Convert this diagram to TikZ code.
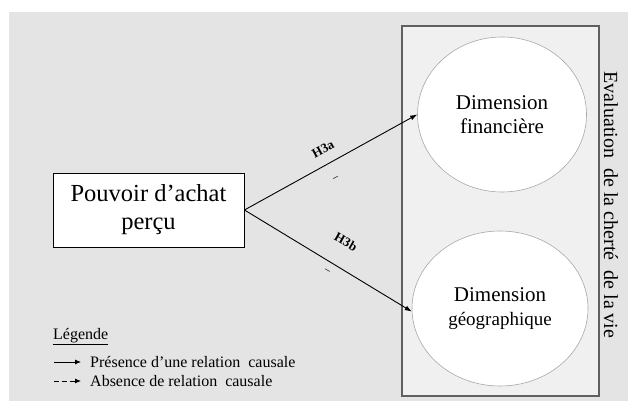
\documentclass[tikz,border=0pt]{standalone}
\usepackage{fontspec}
\setmainfont{Liberation Serif}
\usetikzlibrary{shapes.geometric,arrows.meta}
\definecolor{bggray}{HTML}{E4E4E4}
\definecolor{panel}{HTML}{F0F0F0}
\definecolor{panelline}{HTML}{606060}
\definecolor{ellline}{HTML}{A8A8A8}
\tikzset{
  x=1pt,y=1pt,
  dim/.style={ellipse,draw=ellline,line width=0.6pt,fill=white,inner sep=0pt,align=center,font=\fontsize{21}{24}\selectfont},
  causal/.style={line width=0.9pt,-{Latex[length=7pt,width=5pt]}},
  hlab/.style={font=\fontsize{13}{13}\selectfont\bfseries,inner sep=0pt},
  minus/.style={font=\fontsize{11}{11}\selectfont,inner sep=0pt},
  legtxt/.style={font=\fontsize{16}{16}\selectfont,anchor=west,inner sep=0pt}
}
\begin{document}
\begin{tikzpicture}
\useasboundingbox (0,0) rectangle (628,403);
\fill[bggray] (9,2) rectangle (628,391);
\draw[panelline,fill=panel,line width=1.1pt] (402,7) rectangle (599,377);
\node[dim,minimum width=169pt,minimum height=155pt] (fin) at (502,288.5) {Dimension\\financière};
\node[dim,minimum width=176pt,minimum height=155pt] (geo) at (500,94.5) {Dimension\\{\fontsize{19}{24}\selectfont géographique}};
\node[draw=black,fill=white,line width=0.9pt,minimum width=191pt,minimum height=74pt,inner sep=0pt,align=center,font=\fontsize{24.5}{28}\selectfont] (pa) at (148.5,193) {Pouvoir d’achat\\perçu};
\node[rotate=-90,font=\fontsize{20}{20}\selectfont,inner sep=0pt] (eval) at (611,198) {Evaluation\ \ de la cherté\ \ de la vie};
\draw[causal] (pa.east) -- (fin.west);
\draw[causal] (pa.east) -- (geo.182);
\node[hlab,rotate=28.4] (h3a) at (323,254) {H3a};
\node[minus,rotate=28.4] (m3a) at (336,224) {–};
\node[hlab,rotate=-29.5] (h3b) at (346,161) {H3b};
\node[minus,rotate=-29.5] (m3b) at (327,131) {–};
\node[legtxt] (leg) at (53,66) {\underline{Légende}};
\coordinate (l1a) at (54,41);
\coordinate (l1b) at (81,41);
\coordinate (l2a) at (54,22);
\coordinate (l2b) at (81,22);
\draw[line width=0.8pt,-{Latex[length=6pt,width=5pt]}] (l1a) -- (l1b);
\draw[line width=0.8pt,dash pattern=on 5pt off 3pt,-{Latex[length=6pt,width=5pt]}] (l2a) -- (l2b);
\node[legtxt] (t1) at (90,41) {Présence d’une relation\ \ causale};
\node[legtxt] (t2) at (90,22) {Absence de relation\ \ causale};
\end{tikzpicture}
\end{document}
